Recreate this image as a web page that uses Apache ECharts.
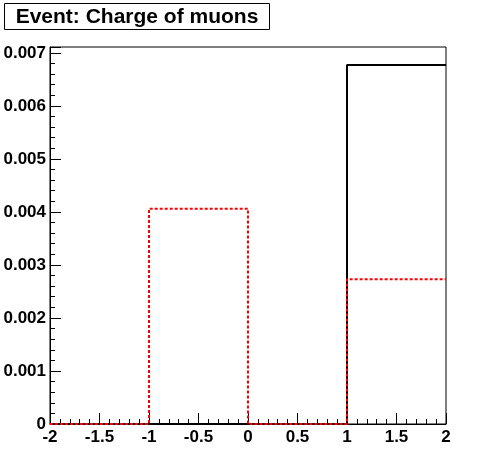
<!DOCTYPE html>
<html><head><meta charset="utf-8">
<script src="https://cdn.jsdelivr.net/npm/echarts@6/dist/echarts.min.js"></script>
<style>html,body{margin:0;padding:0;background:#fff}#c{width:496px;height:472px}</style>
</head><body><div id="c"></div>
<script>
const titleText = 'Event: Charge of muons';
const binEdges = [-2, -1, 0, 1, 2];
const blackValues = [0, 0, 0, 0.00677];
const redValues = [0, 0.00406, 0, 0.00273];
const xRange = [-2, 2];
const yRange = [0, 0.00711];

function stepPoints(edges, vals) {
  const pts = [];
  for (let i = 0; i < vals.length; i++) pts.push([edges[i], vals[i]]);
  pts.push([edges[edges.length - 1], vals[vals.length - 1]]);
  return pts;
}

const font = 'Liberation Sans, Arial, Helvetica, sans-serif';
const chart = echarts.init(document.getElementById('c'), null, {renderer: 'canvas'});
chart.setOption({
  animation: false,
  backgroundColor: '#fff',
  grid: {left: 50, right: 50, top: 47, bottom: 48, show: true, borderColor: '#000', borderWidth: 1, backgroundColor: 'transparent'},
  graphic: [
    {type: 'rect', shape: {x: 4.5, y: 3.5, width: 265, height: 26}, style: {fill: '#fff', stroke: '#000', lineWidth: 1}, z: 10},
    {type: 'text', x: 137, y: 17, style: {text: titleText, font: 'bold 21px ' + font, fill: '#000', align: 'center', verticalAlign: 'middle'}, z: 11}
  ],
  xAxis: {
    type: 'value', min: xRange[0], max: xRange[1], interval: 0.5,
    axisLine: {show: true, onZero: false, lineStyle: {color: '#000', width: 1}},
    axisTick: {show: true, inside: true, length: 11, lineStyle: {color: '#000'}},
    minorTick: {show: true, splitNumber: 5, length: 5, lineStyle: {color: '#000'}},
    splitLine: {show: false},
    axisLabel: {color: '#000', fontWeight: 'bold', fontSize: 17, fontFamily: font, margin: 5,
      formatter: v => String(Math.round(v * 10) / 10)}
  },
  yAxis: {
    type: 'value', min: yRange[0], max: yRange[1], interval: 0.001,
    axisLine: {show: true, onZero: false, lineStyle: {color: '#000', width: 1}},
    axisTick: {show: true, inside: true, length: 11, lineStyle: {color: '#000'}},
    minorTick: {show: true, splitNumber: 5, length: 5, lineStyle: {color: '#000'}},
    splitLine: {show: false},
    axisLabel: {color: '#000', fontWeight: 'bold', fontSize: 17, fontFamily: font, margin: 4, showMaxLabel: false,
      formatter: v => v === 0 ? '0' : v.toFixed(3)}
  },
  series: [
    {type: 'line', step: 'end', data: stepPoints(binEdges, blackValues), showSymbol: false, clip: false,
      lineStyle: {color: '#000', width: 2}, z: 3},
    {type: 'line', step: 'end', data: stepPoints(binEdges, redValues), showSymbol: false, clip: false,
      lineStyle: {color: '#ff0000', width: 2, type: [3, 2]}, z: 4}
  ]
});
</script></body></html>
